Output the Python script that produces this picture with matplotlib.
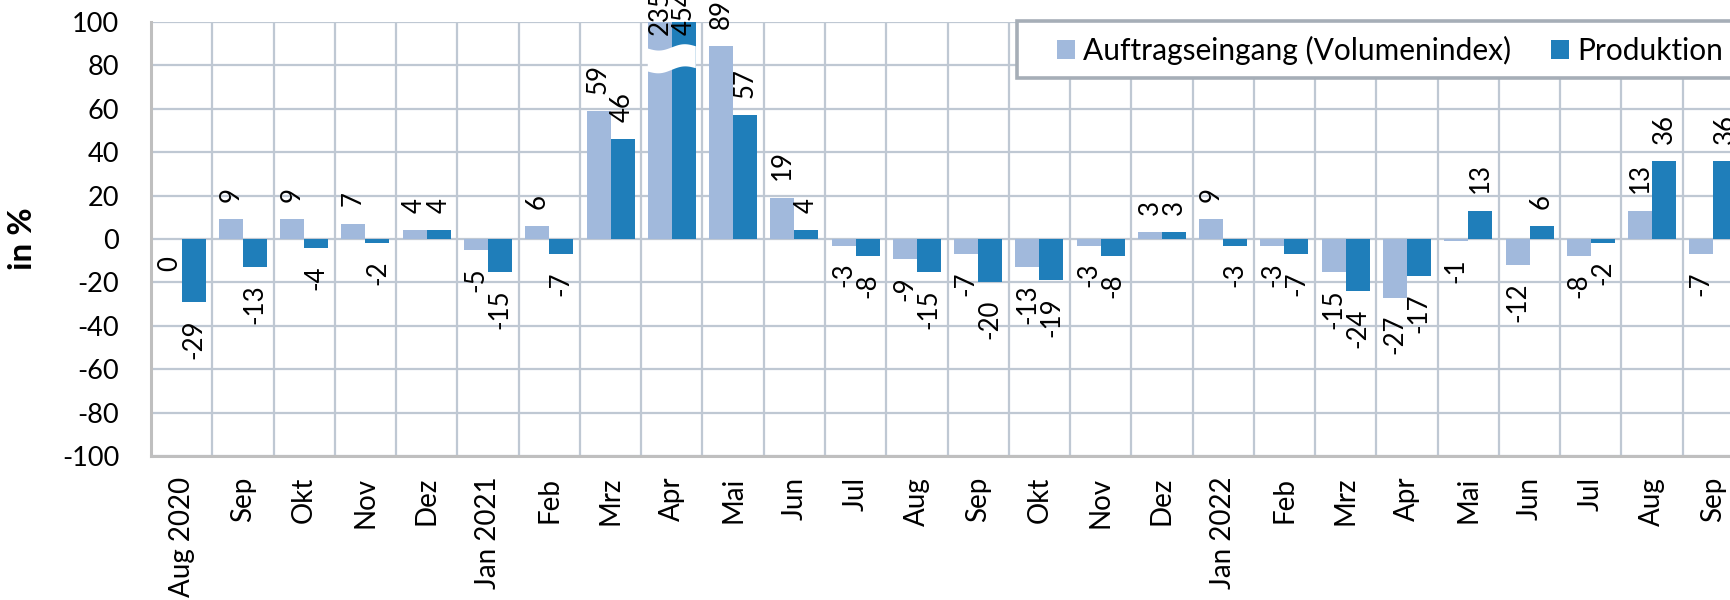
import numpy as np
import matplotlib
matplotlib.use("Agg")
import matplotlib.pyplot as plt
from matplotlib.patches import Rectangle, Polygon, Patch

plt.rcParams['font.family'] = ['Lato', 'DejaVu Sans']

categories = ["Aug 2020", "Sep", "Okt", "Nov", "Dez", "Jan 2021", "Feb", "Mrz", "Apr", "Mai",
              "Jun", "Jul", "Aug", "Sep", "Okt", "Nov", "Dez", "Jan 2022", "Feb", "Mrz",
              "Apr", "Mai", "Jun", "Jul", "Aug", "Sep"]
auftrag = [0, 9, 9, 7, 4, -5, 6, 59, 235, 89, 19, -3, -9, -7, -13, -3, 3, 9, -3, -15,
           -27, -1, -12, -8, 13, -7]
produktion = [-29, -13, -4, -2, 4, -15, -7, 46, 454, 57, 4, -8, -15, -20, -19, -8, 3, -3, -7, -24,
              -17, 13, 6, -2, 36, 36]
series_names = ["Auftragseingang (Volumenindex)", "Produktion"]
yticks = list(range(-100, 101, 20))

c_light = "#A1B9DC"
c_dark = "#1F7EBA"
grid_c = "#BFC8D3"
spine_c = "#BFBFBF"

fig = plt.figure(figsize=(17.3, 6.0), dpi=100)
ax = fig.add_axes([151/1730, 144/600, 1593/1730, 434/600])

n = len(categories)
x = np.arange(n)
w = 0.392
ymin, ymax = -100, 100

ax.bar(x - w/2, auftrag, width=w, color=c_light, zorder=3, label=series_names[0])
ax.bar(x + w/2, produktion, width=w, color=c_dark, zorder=3, label=series_names[1])

ax.set_xlim(-0.5, n - 0.5)
ax.set_ylim(ymin, ymax)
ax.set_yticks(yticks)
ax.set_yticklabels([str(t) for t in yticks], fontsize=19.5)
ax.set_xticks(x)
ax.set_xticklabels(categories, rotation=90, fontsize=20, va='top', ha='center')
ax.set_xticks(np.arange(-0.5, n, 1), minor=True)
ax.tick_params(axis='both', which='both', length=0)
ax.tick_params(axis='y', pad=23)
ax.tick_params(axis='x', pad=15)
ax.grid(axis='y', which='major', color=grid_c, lw=1.6, zorder=0)
ax.grid(axis='x', which='minor', color=grid_c, lw=1.6, zorder=0)
ax.set_axisbelow(True)
for s in ['top', 'right']:
    ax.spines[s].set_visible(False)
for s in ['left', 'bottom']:
    ax.spines[s].set_color(spine_c)
    ax.spines[s].set_linewidth(2.2)

ax.set_ylabel("in %", fontsize=24, fontweight='bold', labelpad=18)

# data labels
off = 12.5
for xs, vals in ((x - w/2, auftrag), (x + w/2, produktion)):
    for xi, v in zip(xs, vals):
        if v > ymax:
            ax.annotate(str(v), (xi, ymax), xytext=(0, -9.5), textcoords='offset points',
                        rotation=90, rotation_mode='anchor', ha='left', va='center',
                        fontsize=18.5, annotation_clip=False, zorder=6)
        elif v > 0:
            ax.annotate(str(v), (xi, v), xytext=(0, off), textcoords='offset points',
                        rotation=90, rotation_mode='anchor', ha='left', va='center',
                        fontsize=18.5, annotation_clip=False, zorder=6)
        else:
            ax.annotate(str(v), (xi, v), xytext=(0, -off), textcoords='offset points',
                        rotation=90, rotation_mode='anchor', ha='right', va='center',
                        fontsize=18.5, annotation_clip=False, zorder=6)

# axis break marker on bars exceeding the scale
for i in range(n):
    if auftrag[i] > ymax or produktion[i] > ymax:
        t = np.linspace(0, 1, 60)
        xl = i - w
        xr = i + w
        xx = xl + (xr - xl) * t
        top = 87.8 - 1.2 * np.sin(2 * np.pi * t) + 1.0 * t
        bot = 77.2 - 1.2 * np.sin(2 * np.pi * t) + 1.5 * t
        pts = np.column_stack([np.concatenate([xx, xx[::-1]]),
                               np.concatenate([top, bot[::-1]])])
        ax.add_patch(Polygon(pts, closed=True, facecolor='white', edgecolor='none', zorder=4))

# legend box
rect = Rectangle((0.5436, 0.871), 0.6, 0.131, transform=ax.transAxes, facecolor='white',
                 edgecolor='#A6AEB7', lw=2.6, zorder=7, clip_on=False)
ax.add_patch(rect)
handles = [Patch(facecolor=c_light), Patch(facecolor=c_dark)]
leg = ax.legend(handles, series_names, loc='center left', bbox_to_anchor=(0.5687, 0.934),
                frameon=False, ncol=2, fontsize=21.5, handlelength=0.6, handleheight=0.6,
                handletextpad=0.27, columnspacing=1.34, borderpad=0, borderaxespad=0)
leg.set_zorder(8)

fig.savefig("out.png", dpi=100)
